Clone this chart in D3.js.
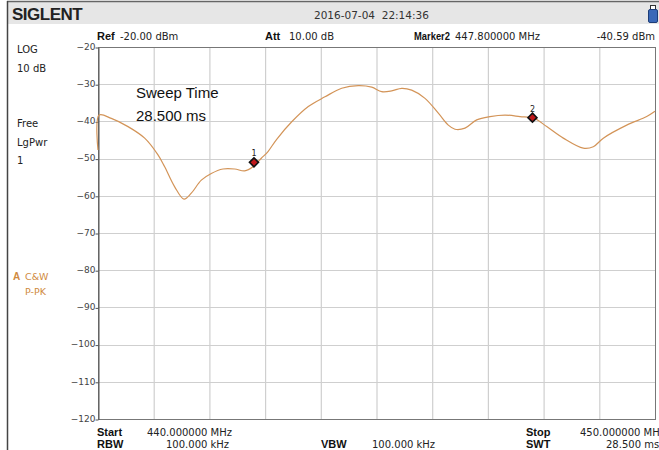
<!DOCTYPE html>
<html>
<head>
<meta charset="utf-8">
<script src="https://cdn.jsdelivr.net/npm/d3@7"></script>
<style>
  body { margin: 0; background: #fff; }
  svg text { font-family: "DejaVu Sans", Verdana, sans-serif; }
</style>
</head>
<body>
<div id="chart"></div>
<script>
const width = 659,
  height = 450;

// trace: frequency (MHz) / level (dBm)
const freqs = [440.0, 440.02, 440.239, 440.539, 440.838, 441.077, 441.197, 441.377, 441.544, 441.675,
  441.855, 442.034, 442.244, 442.454, 442.634, 442.783, 442.932, 443.052, 443.208, 443.478,
  443.776, 444.075, 444.375, 444.673, 444.914, 445.093, 445.273, 445.452, 445.632, 445.871,
  446.11, 446.289, 446.409, 446.589, 446.799, 447.038, 447.307, 447.576, 447.833, 448.056,
  448.354, 448.713, 448.892, 449.072, 449.492, 449.851, 450.0];
const levels = [-47.7, -38.3, -39.2, -41.4, -44.5, -49.0, -52.2, -57.6, -60.9, -59.3,
  -55.8, -54.0, -52.8, -52.8, -53.3, -52.2, -49.9, -48.1, -44.8, -40.1,
  -36.0, -33.4, -31.1, -30.4, -30.8, -32.0, -31.8, -31.1, -31.6, -33.8,
  -37.8, -41.0, -42.1, -41.8, -39.6, -38.7, -38.3, -38.7, -39.2, -41.4,
  -44.5, -47.2, -46.8, -44.5, -41.0, -38.7, -37.3];

const markerNames = ["1", "2"];
const markerFreqs = [442.8, 447.8];
const markerLevels = [-51.0, -39.0];

const yTicks = [-20, -30, -40, -50, -60, -70, -80, -90, -100, -110, -120];
const xTicks = d3.range(440, 450.001, 1);

const svg = d3.select("#chart")
  .append("svg")
  .attr("width", width)
  .attr("height", height);

// title bar
svg.append("rect").attr("x", 7).attr("y", 2).attr("width", 660).attr("height", 22)
  .attr("fill", "#e6e6e6");
svg.append("line").attr("x1", 7).attr("x2", 659).attr("y1", 1.5).attr("y2", 1.5)
  .attr("stroke", "#666").attr("stroke-width", 1.5);
svg.append("line").attr("x1", 7.5).attr("x2", 7.5).attr("y1", 1).attr("y2", height)
  .attr("stroke", "#444").attr("stroke-width", 1.5);

svg.append("text").attr("x", 12).attr("y", 20)
  .style("font-family", "'Liberation Sans', Arial, sans-serif")
  .style("font-weight", "900").style("font-size", "17px").attr("fill", "#222")
  .attr("letter-spacing", "-0.5")
  .text("SIGLENT");
svg.append("text").attr("x", 314).attr("y", 19)
  .style("font-size", "10.5px").attr("fill", "#333").attr("xml:space", "preserve")
  .text("2016-07-04  22:14:36");

// battery
svg.append("rect").attr("x", 650.5).attr("y", 5.5).attr("width", 5).attr("height", 4)
  .attr("fill", "#fff").attr("stroke", "#333");
svg.append("rect").attr("x", 648.5).attr("y", 9.5).attr("width", 9).attr("height", 13).attr("rx", 1.5)
  .attr("fill", "#3a68b8").attr("stroke", "#1d3d78");

// header row
const bold = (x, y, t, len) => {
  const s = svg.append("text").attr("x", x).attr("y", y)
    .style("font-family", "'Liberation Sans', Arial, sans-serif")
    .style("font-weight", "bold").style("font-size", "11px").attr("fill", "#111").text(t);
  if (len) s.attr("textLength", len).attr("lengthAdjust", "spacingAndGlyphs");
  return s;
};
const plain = (x, y, t, anchor) => svg.append("text").attr("x", x).attr("y", y)
  .attr("text-anchor", anchor || "start")
  .style("font-size", "10px").attr("fill", "#222").text(t);

bold(97, 40, "Ref");
plain(120, 40, "-20.00 dBm");
bold(265, 40, "Att");
plain(289, 40, "10.00 dB");
bold(414, 40, "Marker2", 36);
plain(455, 40, "447.800000 MHz");
plain(655, 40, "-40.59 dBm", "end");

// left panel
plain(17, 53, "LOG");
plain(17, 72, "10 dB");
plain(17, 127, "Free");
plain(17, 146, "LgPwr");
plain(17, 164, "1");
svg.append("text").attr("x", 13).attr("y", 280)
  .style("font-family", "'Liberation Sans', Arial, sans-serif")
  .style("font-weight", "bold").style("font-size", "10px").attr("fill", "#d08a40").text("A");
svg.append("text").attr("x", 25).attr("y", 280)
  .style("font-size", "9.5px").attr("fill", "#d08a40").text("C&W");
svg.append("text").attr("x", 25).attr("y", 295)
  .style("font-size", "9.5px").attr("fill", "#d08a40").text("P-PK");

// footer
bold(97, 436, "Start");
plain(147, 436, "440.000000 MHz");
bold(97, 448, "RBW");
plain(166, 448, "100.000 kHz");
bold(321, 448, "VBW");
plain(372, 448, "100.000 kHz");
bold(526, 436, "Stop");
plain(580, 436, "450.000000 MHz");
bold(526, 448, "SWT");
plain(606, 448, "28.500 ms");

// scales
const x = d3.scaleLinear().domain([440, 450]).range([98, 655]);
const y = d3.scaleLinear().domain([-120, -20]).range([419, 47]);

// grid
svg.append("g")
  .selectAll("line").data(xTicks.slice(1, -1)).enter().append("line")
  .attr("x1", d => x(d) + 0.5).attr("x2", d => x(d) + 0.5)
  .attr("y1", y(-20)).attr("y2", y(-120))
  .attr("stroke", "#cfcfcf").attr("stroke-width", 1.2);
svg.append("g")
  .selectAll("line").data(yTicks.slice(1, -1)).enter().append("line")
  .attr("x1", x(440)).attr("x2", x(450))
  .attr("y1", d => Math.round(y(d)) + 0.5).attr("y2", d => Math.round(y(d)) + 0.5)
  .attr("stroke", "#cfcfcf").attr("stroke-width", 1.2);

// frame
svg.append("rect").attr("x", x(440) + 0.5).attr("y", y(-20) + 0.5)
  .attr("width", x(450) - x(440)).attr("height", y(-120) - y(-20))
  .attr("fill", "none").attr("stroke", "#777").attr("stroke-width", 1);

// y axis
const yAxis = svg.append("g")
  .attr("transform", `translate(${x(440) + 0.5},0.5)`)
  .call(d3.axisLeft(y).tickValues(yTicks).tickSize(3).tickSizeOuter(0));
yAxis.select(".domain").attr("stroke", "#555");
yAxis.selectAll(".tick line").attr("stroke", "#555");
yAxis.selectAll(".tick text")
  .attr("x", -3).attr("dy", "0.2em")
  .style("font-size", "9px").attr("fill", "#444")
  .style("font-family", "'DejaVu Sans', Verdana, sans-serif");

// sweep time note
svg.append("text").attr("x", 136).attr("y", 98)
  .style("font-family", "'Liberation Sans', Arial, sans-serif")
  .style("font-size", "15px").attr("fill", "#111").text("Sweep Time");
svg.append("text").attr("x", 136).attr("y", 121)
  .style("font-family", "'Liberation Sans', Arial, sans-serif")
  .style("font-size", "15px").attr("fill", "#111").text("28.500 ms");

// trace
const traceData = freqs.map((f, i) => ({ f: f, v: levels[i] }));
const line = d3.line()
  .x(d => x(d.f))
  .y(d => y(d.v))
  .curve(d3.curveCatmullRom.alpha(0.5));
svg.append("path")
  .datum(traceData)
  .attr("d", line)
  .attr("fill", "none")
  .attr("stroke", "#d39458")
  .attr("stroke-width", 1.2);

// markers
const markers = markerNames.map((n, i) => ({ n: n, f: markerFreqs[i], v: markerLevels[i] }));
const mk = svg.append("g").selectAll("g").data(markers).enter().append("g")
  .attr("transform", d => `translate(${x(d.f)},${y(d.v)})`);
mk.append("path")
  .attr("d", "M0,-4.5L4.5,0L0,4.5L-4.5,0Z")
  .attr("fill", "#c0181a").attr("stroke", "#111").attr("stroke-width", 1.6);
mk.append("text")
  .attr("y", -6).attr("text-anchor", "middle")
  .style("font-size", "8px").attr("fill", "#222")
  .text(d => d.n);
</script>
</body>
</html>
